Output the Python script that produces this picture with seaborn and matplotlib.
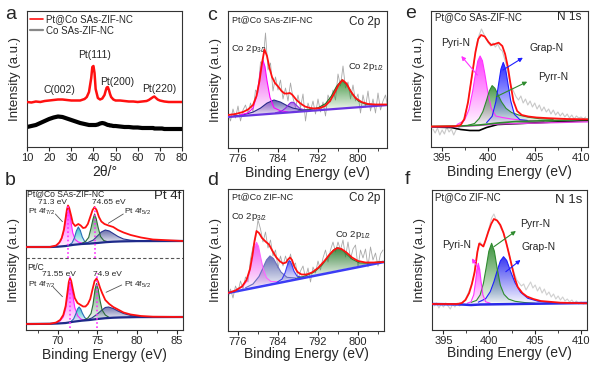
import numpy as np
import matplotlib
matplotlib.use("Agg")
import matplotlib.pyplot as plt
import seaborn as sns
from matplotlib.colors import to_rgb
from matplotlib.patches import Polygon
from matplotlib.lines import Line2D

# ---------------- data: (a) XRD ----------------
xrd_2theta = [10, 12, 14, 16, 18, 20, 22, 24, 26, 28, 30, 32, 34, 36, 37, 38, 39, 39.5, 40, 40.5,
              41, 42, 43, 44, 45, 45.5, 46, 46.5, 47, 47.5, 48, 49, 50, 52, 54, 56, 58, 60, 62, 64,
              65, 66, 67, 67.5, 68, 68.5, 69, 70, 71, 72, 74, 76, 78, 80]
xrd_ptco = [45, 44.5, 45.5, 45, 46, 46.5, 47, 47.5, 47.5, 47, 46.5, 46.5, 46.5, 48, 50, 55, 69, 80, 81, 74,
            58, 49, 47.5, 48.5, 52, 56, 59.5, 60, 57, 53, 50, 47.5, 46.5, 46.5, 46, 45.5, 45.5, 45, 45.5, 46,
            47, 48.5, 50, 50.5, 49.5, 48.5, 47.5, 46.5, 46, 45.5, 45, 45, 45, 45]
xrd_co = [20, 21, 22, 24, 26, 28, 29.5, 30.5, 30, 28.5, 27, 25.5, 24, 23, 22.5, 22, 22, 22, 22, 22,
          22, 22.5, 23.5, 24, 23.5, 23, 22.5, 22, 22, 21.5, 21.5, 21, 21, 20.5, 20, 20, 19.5, 19.5, 19, 19,
          19, 19, 19, 18.5, 18.5, 18.5, 18.5, 18.5, 18.5, 18, 18, 18, 18, 18]

# ---------------- data: (b) Pt 4f ----------------
b1_bg_x = [66, 69, 70, 71, 72, 73, 74, 75, 76, 77, 78, 80, 85.8]
b1_bg_y = [83, 83, 83.3, 84, 85.2, 86, 86.4, 87, 87.8, 88.3, 88.6, 88.9, 89]
b1_env_x = [66, 69, 69.8, 70.2, 70.5, 70.8, 71.0, 71.15, 71.3, 71.45, 71.7, 71.9, 72.2, 72.6, 72.9, 73.2,
            73.5, 73.8, 74.1, 74.4, 74.65, 74.9, 75.2, 75.5, 75.9, 76.4, 77.0, 77.6, 78.3, 79.2, 80.5, 82, 85.8]
b1_env_y = [83, 83, 84.5, 87.5, 92, 101, 112, 120, 124.5, 122, 114, 107, 104, 106, 104.5, 102,
            102.5, 106, 113, 120, 123, 120, 113, 108.5, 106, 104.5, 103, 100, 97.5, 95, 92.5, 90.5, 89]
b1_p1_x = [69.5, 70.0, 70.4, 70.7, 70.95, 71.15, 71.3, 71.45, 71.65, 71.9, 72.2, 72.6, 73.1, 73.6]
b1_p1_y = [83.4, 85.5, 89.0, 96.0, 109.0, 119.5, 123.0, 119.5, 109.5, 97.0, 90.5, 88.0, 86.8, 86.6]
b1_p2_x = [71.4, 71.8, 72.1, 72.35, 72.6, 72.85, 73.1, 73.4, 73.8]
b1_p2_y = [85.0, 87.0, 92.0, 99.0, 103.0, 99.5, 93.0, 88.5, 86.8]
b1_p3_x = [73.0, 73.5, 73.9, 74.2, 74.45, 74.65, 74.85, 75.1, 75.4, 75.8, 76.3]
b1_p3_y = [86.5, 88.5, 92.5, 102, 111, 116, 111.5, 102.5, 93.5, 89.5, 88.3]
b1_p4_x = [73.0, 73.8, 74.5, 75.0, 75.5, 76.0, 76.5, 77.0, 77.6, 78.3, 79.2, 80.5, 82]
b1_p4_y = [86.4, 87.5, 90.0, 94.0, 98.0, 100.0, 99.0, 96.5, 93.5, 91.0, 89.8, 89.2, 89.0]

b2_bg_x = [66, 69, 70, 71, 72, 73, 74, 75, 76, 77, 78, 80, 85.8]
b2_bg_y = [6, 6.2, 6.5, 7, 8.3, 9.3, 10, 11, 11.8, 12.3, 12.6, 12.9, 13]
b2_env_x = [66, 69, 69.8, 70.3, 70.7, 71.0, 71.2, 71.4, 71.55, 71.7, 71.9, 72.15, 72.5, 72.9, 73.2, 73.5,
            73.8, 74.1, 74.4, 74.65, 74.9, 75.1, 75.35, 75.6, 76.0, 76.5, 77.0, 77.6, 78.3, 79.2, 80.5, 82, 85.8]
b2_env_y = [6, 6.2, 7.5, 10, 15, 24, 36, 48, 52, 49, 41, 32, 27, 25, 23.5, 23.5,
            26, 31, 41, 49, 51.5, 48, 42, 37, 30, 26, 23, 20.5, 17.5, 15.5, 14, 13.3, 13]
b2_p1_x = [69.8, 70.3, 70.7, 71.0, 71.25, 71.4, 71.55, 71.7, 71.9, 72.15, 72.5, 72.9, 73.4, 73.9]
b2_p1_y = [6.8, 9.0, 13.0, 21.0, 35.0, 45.5, 49.5, 45.5, 35.5, 22.5, 14.5, 11.0, 9.8, 9.8]
b2_p2_x = [71.6, 72.0, 72.3, 72.5, 72.7, 72.9, 73.1, 73.4, 73.8]
b2_p2_y = [8.0, 11.0, 16.5, 21.0, 23.0, 21.0, 17.0, 12.5, 10.0]
b2_p3_x = [73.3, 73.8, 74.2, 74.45, 74.7, 74.9, 75.1, 75.35, 75.6, 76.0, 76.5]
b2_p3_y = [10.0, 12.0, 16.5, 25.5, 40.5, 46.5, 41.0, 29.0, 20.0, 15.0, 12.5]
b2_p4_x = [73.5, 74.3, 75.0, 75.5, 76.0, 76.4, 77.0, 77.6, 78.3, 79.2, 80.5, 82.0]
b2_p4_y = [9.8, 12.0, 16.0, 19.5, 22.5, 23.0, 21.5, 19.0, 16.5, 14.5, 13.5, 13.0]

# ---------------- data: (c) Co 2p, Pt@Co SAs-ZIF-NC ----------------
c_raw_start, c_raw_step = 774.0, 0.5
c_raw_y = [36, 27, 39, 30, 42, 27, 38, 43, 34, 45, 36, 58, 55, 86, 86, 115, 78, 85, 57, 71,
           58, 68, 49, 60, 47, 65, 50, 40, 53, 40, 54, 27, 45, 37, 47, 34, 49, 36, 46, 32,
           53, 46, 58, 48, 74, 62, 82, 60, 66, 49, 63, 47, 54, 35, 53, 41, 57, 37, 49, 35,
           55, 38, 47, 53, 39]
c_bg_x = [774, 806]
c_bg_y = [31, 43]
c_env_x = [774, 775.5, 777, 778, 779, 779.7, 780.3, 780.8, 781.3, 781.8, 782.3, 782.8, 783.4, 784.1, 784.7,
           785.3, 785.9, 786.4, 786.9, 787.7, 788.5, 789.4, 790.4, 791.4, 792.4, 793.4, 794.4, 795.3, 796.1,
           796.9, 797.7, 798.5, 799.5, 800.7, 802, 803.5, 805.8]
c_env_y = [33, 34, 36, 38.5, 43, 52, 67, 85, 98.5, 92, 80, 71, 65, 61, 57,
           54.5, 54.5, 55, 53, 48, 44.5, 41.5, 40, 39.5, 40, 42, 47, 55, 63,
           68, 64.5, 57, 50, 46, 44, 43.5, 43.5]
c_p1_x = [776.5, 778.0, 779.0, 779.7, 780.2, 780.6, 781.0, 781.4, 781.8, 782.4, 783.2, 784.5, 786.0]
c_p1_y = [33.2, 35.2, 39.9, 51.5, 67.0, 81.0, 87.6, 81.2, 67.3, 50.6, 40.2, 37.2, 36.0]
c_p2_x = [775, 777, 779, 780.5, 781.8, 783.2, 784.5, 785.8, 787, 788.5, 790.5]
c_p2_y = [31.9, 33.1, 35.9, 39.9, 44.9, 48.0, 45.9, 42.4, 39.9, 38.4, 38.0]
c_p3_x = [783.5, 784.7, 785.5, 786.1, 786.5, 786.8, 787.2, 787.7, 788.4, 789.5, 791]
c_p3_y = [35.2, 36.8, 39.8, 43.3, 45.3, 45.8, 45.3, 42.7, 39.4, 37.9, 37.8]
c_p4_x = [788, 790, 792, 793.5, 794.7, 795.7, 796.8, 797.9, 798.9, 800.1, 801.6, 803.5, 805.8]
c_p4_y = [37.0, 38.1, 40.2, 44.3, 52.2, 61.6, 68.1, 62.5, 53.7, 46.8, 43.8, 43.3, 43.5]

# ---------------- data: (d) Co 2p, Pt@Co ZIF-NC ----------------
d_raw_start, d_raw_step = 774.0, 0.5
d_raw_y = [33, 42, 33, 45, 39, 50, 42, 54, 49, 72, 84, 92, 111, 102, 89, 99, 83, 91, 75, 81,
           63, 75, 65, 75, 66, 77, 65, 68, 52, 60, 65, 53, 63, 49, 64, 58, 70, 61, 73, 81,
           69, 81, 89, 79, 89, 81, 91, 74, 89, 72, 82, 86, 64, 81, 73, 82, 64, 84, 71, 78,
           65, 77, 81]
d_bg_x = [774, 805.2]
d_bg_y = [38, 69]
d_env_x = [774, 775.5, 776.8, 777.7, 778.4, 778.9, 779.3, 779.7, 780.2, 780.8, 781.5, 782.2, 782.9, 783.6,
           784.3, 785.0, 785.6, 786.0, 786.4, 786.8, 787.3, 787.9, 788.7, 789.7, 790.8, 792.0, 793.2, 794.3,
           795.2, 795.9, 796.7, 797.7, 798.8, 800.0, 801.5, 803.2, 805.2]
d_env_y = [38, 40.5, 44.5, 51, 62, 76, 90, 100, 98, 93, 89.5, 86.5, 80, 74,
           70, 67.5, 68.5, 71.5, 73.5, 71, 64, 59, 56.5, 56.5, 58.5, 63, 69.5, 76.5,
           81, 83, 82, 78.5, 73.5, 70, 68.5, 68.5, 69]
d_p1_x = [775.5, 776.8, 777.7, 778.4, 778.9, 779.3, 779.7, 780.1, 780.5, 781.0, 781.7, 782.6, 784.0]
d_p1_y = [40.9, 43.8, 49.2, 60.4, 72.9, 83.8, 88.7, 84.6, 74.5, 63.0, 53.2, 49.5, 49.3]
d_p2_x = [777.5, 779.0, 780.2, 781.0, 781.7, 782.4, 783.1, 783.8, 784.6, 785.8, 787.5]
d_p2_y = [43.2, 47.0, 54.5, 63.1, 71.0, 75.1, 72.4, 65.9, 58.9, 53.7, 53.0]
d_p3_x = [783.8, 784.8, 785.4, 785.8, 786.1, 786.3, 786.5, 786.8, 787.2, 787.8, 788.8]
d_p3_y = [48.7, 51.9, 58.0, 64.6, 69.1, 70.3, 69.5, 65.6, 59.8, 54.9, 53.7]
d_p4_x = [787.5, 789.5, 791.3, 792.8, 794.0, 795.0, 795.8, 796.6, 797.6, 798.8, 800.3, 802.3, 805]
d_p4_y = [52.4, 55.1, 59.2, 65.9, 73.9, 80.6, 83.3, 82.2, 77.5, 71.9, 68.1, 67.8, 69.7]

# ---------------- data: (e) N 1s, Pt@Co SAs-ZIF-NC ----------------
e_raw_start, e_raw_step = 394.0, 0.25
e_raw_y = [18, 14, 19, 12, 17, 13, 20, 15, 18, 12, 17, 19, 21, 25, 34, 42, 58, 72, 88, 104,
           112, 118, 113, 108, 104, 101, 104, 100, 103, 98, 96, 88, 80, 68, 60, 55, 50, 47, 51, 44,
           48, 42, 46, 40, 44, 38, 42, 36, 40, 35, 38, 33, 37, 32, 35, 31, 34, 30, 33, 29,
           32, 28, 31, 29, 30, 28, 30]
e_bgk_x = [393.8, 396, 397, 398, 399, 399.8, 401, 410.75]
e_bgk_y = [20, 19.5, 17.5, 16.5, 16.5, 19.5, 22.5, 26.5]
e_bgm_x = [393.8, 397, 399, 401, 410.75]
e_bgm_y = [20, 20.5, 21.5, 23, 25.2]
e_bgg_x = [393.8, 397, 399, 401, 403, 410.75]
e_bgg_y = [20.5, 21, 22, 24, 25.5, 27.5]
e_env_x = [393.8, 396.5, 397.0, 397.4, 397.8, 398.2, 398.6, 398.9, 399.2, 399.6, 400.0, 400.3, 400.7,
           401.1, 401.5, 401.8, 402.1, 402.4, 402.7, 403.1, 403.6, 404.3, 405.2, 406.5, 408.5, 410.75]
e_env_y = [20.5, 20.8, 22, 28, 45, 70, 95, 108, 112, 110.5, 105, 102, 103,
           104.3, 101, 93, 80, 62, 46, 36, 32, 30.5, 29.5, 28.8, 28, 27.7]
e_pyri_x = [396.6, 397.4, 397.9, 398.3, 398.6, 398.85, 399.1, 399.35, 399.6, 399.9, 400.3, 400.8, 401.5,
            402.5, 404, 406]
e_pyri_y = [22.4, 26.5, 37.5, 55.8, 73.2, 85.9, 91, 86.3, 73.8, 56.8, 39, 31, 29.5, 28, 26.5, 25.5]
e_grap_x = [399.8, 400.4, 400.8, 401.1, 401.35, 401.6, 401.85, 402.1, 402.4, 402.8, 403.4, 404.2]
e_grap_y = [24.3, 30.7, 45.3, 63, 77.9, 84.6, 78.3, 63.8, 46.5, 32.7, 27.3, 26.6]
e_pyrr_x = [397.8, 398.5, 399.0, 399.4, 399.8, 400.1, 400.4, 400.7, 401.0, 401.4, 401.9, 402.5, 403.3,
            404.3, 405.5, 407]
e_pyrr_y = [21.7, 23.5, 28.5, 35.4, 46.8, 56.1, 61.4, 58.7, 53, 45.3, 38.6, 34.5, 31.9, 29.8, 28.3, 27.6]

# ---------------- data: (f) N 1s, Pt@Co ZIF-NC ----------------
f_raw_start, f_raw_step = 394.0, 0.25
f_raw_y = [24, 27, 22, 26, 23, 27, 24, 21, 26, 23, 27, 24, 26, 29, 33, 38, 44, 52, 66, 82,
           88, 84, 87, 95, 103, 112, 116, 110, 108, 102, 98, 90, 82, 72, 64, 56, 50, 47, 44, 46,
           40, 44, 48, 42, 45, 39, 43, 37, 41, 35, 38, 33, 36, 31, 34, 30, 33, 29, 31, 28,
           30, 27, 29, 26, 28, 26, 27]
f_bg_x = [393.75, 397, 398, 399, 410.65]
f_bg_y = [26, 25.5, 25, 25.5, 27]
f_env_x = [393.75, 396.5, 397.0, 397.4, 397.8, 398.1, 398.4, 398.7, 398.9, 399.15, 399.35, 399.6, 399.9,
           400.2, 400.5, 400.85, 401.2, 401.55, 401.85, 402.2, 402.5, 402.8, 403.1, 403.6, 404.1, 404.8,
           405.6, 407.75, 410.65]
f_env_y = [26, 26, 27, 30, 37, 46, 58, 78, 86.5, 85, 83.5, 90, 98.5,
           106, 111, 109.5, 105, 97, 87, 74, 62, 51, 43, 37, 33.5, 31,
           29, 27.3, 26.7]
f_pyri_x = [397.6, 398.0, 398.3, 398.5, 398.65, 398.8, 398.95, 399.1, 399.3, 399.6, 400.1]
f_pyri_y = [26.8, 28.2, 35.2, 48.4, 60.6, 66.7, 60.6, 48.4, 35.2, 28.2, 26.8]
f_pyrr_x = [398.0, 398.6, 399.0, 399.35, 399.65, 399.95, 400.25, 400.55, 400.85, 401.2, 401.6, 402.1,
            402.8, 403.8, 405]
f_pyrr_y = [27.6, 29.6, 35.1, 46.4, 62, 78.8, 86.7, 78.8, 61.8, 44.8, 35.7, 30.9, 28.7, 27.5, 26.7]
f_grap_x = [398.8, 399.6, 400.1, 400.5, 400.85, 401.2, 401.55, 401.9, 402.3, 402.8, 403.4, 404.2, 405.3, 407]
f_grap_y = [27.8, 31.3, 38.3, 48.2, 59.1, 69, 73.3, 69.5, 59.1, 47.3, 37.8, 31.7, 28.8, 27.2]

# ---------------- style ----------------
sns.set_style("ticks")
plt.rcParams["font.family"] = ["Liberation Sans", "DejaVu Sans"]
plt.rcParams["mathtext.fontset"] = "custom"
plt.rcParams["mathtext.rm"] = "Liberation Sans"
plt.rcParams["mathtext.it"] = "Liberation Sans:italic"
plt.rcParams["axes.linewidth"] = 0.8
plt.rcParams["axes.edgecolor"] = "#333333"

RED = "#FF1010"


def grad_fill(ax, x, y, color, top=0.9, z=2):
    x = np.asarray(x, float)
    y = np.asarray(y, float)
    poly = Polygon(np.column_stack([x, y]), closed=True, fc="none", ec="none")
    ax.add_patch(poly)
    img = np.ones((64, 1, 4))
    img[..., :3] = to_rgb(color)
    img[..., 3] = np.linspace(top, 0.05, 64)[:, None]
    im = ax.imshow(img, aspect="auto", origin="upper", interpolation="bilinear",
                   extent=(x.min(), x.max(), y.min(), y.max()), zorder=z)
    im.set_clip_path(poly)


def line(ax, x, y, color, lw=0.8, z=3, **kw):
    sns.lineplot(x=list(x), y=list(y), ax=ax, color=color, lw=lw, sort=False,
                 estimator=None, zorder=z, **kw)


def peak(ax, x, y, fill, edge=None, top=0.9, z=2):
    grad_fill(ax, x, y, fill, top, z)
    line(ax, x, y, edge or fill, 0.8, z + 0.5)


def raw(ax, start, step, y, color, lw=0.6):
    xs = start + step * np.arange(len(y))
    line(ax, xs, y, color, lw, 1)


def frame(ax, xlim, ylim, major, minor=None, xlabel="Binding Energy (eV)", labelpad=1):
    ax.set_xlim(*xlim)
    ax.set_ylim(*ylim)
    ax.set_xticks(major)
    if minor is not None:
        ax.set_xticks(minor, minor=True)
    ax.set_yticks([])
    ax.tick_params(axis="x", which="major", direction="out", length=3, width=0.8,
                   labelsize=8, pad=1.5)
    ax.tick_params(axis="x", which="minor", direction="out", length=2, width=0.6)
    ax.set_xlabel(xlabel, fontsize=10, labelpad=labelpad)
    ax.set_ylabel("Intensity (a.u.)", fontsize=9.5, labelpad=4)


def arrow(ax, tail, head, color):
    ax.annotate("", xy=head, xytext=tail,
                arrowprops=dict(arrowstyle="-|>", color=color, lw=0.8, mutation_scale=6,
                                shrinkA=0, shrinkB=0), zorder=6)


fig = plt.figure(figsize=(6, 3.69), dpi=100)
W, H = 600, 369


def add_axes(l, t, r, b):
    return fig.add_axes([l / W, 1 - b / H, (r - l) / W, (b - t) / H])


axa = add_axes(27, 11, 182, 147)
axb = add_axes(26, 190, 183, 330)
axc = add_axes(228, 11, 387, 148)
axd = add_axes(228, 189, 384, 331)
axe = add_axes(431, 11, 588, 147)
axf = add_axes(432, 190, 587, 330)

# ---------------- (a) ----------------
line(axa, xrd_2theta, xrd_co, "black", 3.0, 2)
line(axa, xrd_2theta, xrd_ptco, RED, 1.8, 3)
frame(axa, (10, 80), (0, 136), list(range(10, 81, 10)), xlabel="2θ/°")
for s, x, y in [("C(002)", 24.5, 57), ("Pt(111)", 40.7, 92), ("Pt(200)", 50.6, 65), ("Pt(220)", 69.6, 58)]:
    axa.text(x, y, s, fontsize=7.5, ha="center", va="center")
handles = [Line2D([], [], color=RED, lw=1.2), Line2D([], [], color="#888888", lw=1.6)]
axa.legend(handles, ["Pt@Co SAs-ZIF-NC", "Co SAs-ZIF-NC"], loc="upper left", frameon=False,
           fontsize=7, handlelength=1.3, handletextpad=0.4, borderaxespad=0.1, borderpad=0.2,
           labelspacing=0.2)

# ---------------- (b) ----------------
MAGB, CYB, GRB, NVB = "#FF1FFF", "#22B8C8", "#3C8C50", "#2A3590"
for (bgx, bgy, ex, ey, p1, p2, p3, p4) in [
        (b1_bg_x, b1_bg_y, b1_env_x, b1_env_y, (b1_p1_x, b1_p1_y), (b1_p2_x, b1_p2_y),
         (b1_p3_x, b1_p3_y), (b1_p4_x, b1_p4_y)),
        (b2_bg_x, b2_bg_y, b2_env_x, b2_env_y, (b2_p1_x, b2_p1_y), (b2_p2_x, b2_p2_y),
         (b2_p3_x, b2_p3_y), (b2_p4_x, b2_p4_y))]:
    peak(axb, *p4, "#3A3F8F", NVB, 0.75, 2)
    peak(axb, *p1, MAGB, MAGB, 0.95, 2.2)
    peak(axb, *p2, CYB, "#2A70B8", 0.9, 2.4)
    peak(axb, *p3, GRB, "#2D6A3A", 0.9, 2.6)
    line(axb, bgx, bgy, "#1E2A8A", 1.6, 4)
    line(axb, ex, ey, RED, 1.3, 5)
axb.axhline(72, color="#555555", lw=0.8, ls=(0, (3, 2)), zorder=1)
for x, y0, y1 in [(71.3, 72, 124), (74.65, 72, 123), (71.55, 2, 55), (74.9, 2, 57)]:
    axb.plot([x, x], [y0, y1], color="#FF30FF", lw=1.2, ls=(0, (1, 1.5)), zorder=6)
frame(axb, (66, 85.8), (0, 140), [70, 75, 80, 85], [67.5, 72.5, 77.5, 82.5])
axb.text(66.1, 136.3, "Pt@Co SAs-ZIF-NC", fontsize=6.2, ha="left", va="center")
axb.text(85.55, 134, "Pt 4f", fontsize=9.5, ha="right", va="center")
axb.text(66.1, 63, "Pt/C", fontsize=6.2, ha="left", va="center")
for s, x, y, ha in [("71.3 eV", 69.3, 127, "center"), ("74.65 eV", 76.5, 127, "center"),
                    ("Pt 4f$_{7/2}$", 66.2, 118, "left"), ("Pt 4f$_{5/2}$", 78.3, 118, "left"),
                    ("71.55 eV", 70.1, 56, "center"), ("74.9 eV", 76.3, 56, "center"),
                    ("Pt 4f$_{7/2}$", 66.2, 45, "left"), ("Pt 4f$_{5/2}$", 78.3, 45, "left")]:
    axb.text(x, y, s, fontsize=6.0, ha=ha, va="center")
for (x0, y0, x1, y1) in [(69.7, 116, 70.6, 108.3), (78.27, 116, 76.38, 106.7),
                         (69.45, 42.7, 70.6, 33.3), (78.07, 45, 76.1, 37.7)]:
    axb.plot([x0, x1], [y0, y1], color="#555555", lw=0.6, zorder=6)

# ---------------- (c) ----------------
raw(axc, c_raw_start, c_raw_step, c_raw_y, "#A8A8A8", 0.6)
peak(axc, c_p2_x, c_p2_y, "#3C3C9C", "#2A2A8A", 0.85, 2)
peak(axc, c_p1_x, c_p1_y, "#F040F0", "#FF00FF", 0.95, 2.2)
peak(axc, c_p3_x, c_p3_y, "#9455E0", "#8A2BE2", 0.9, 2.4)
peak(axc, c_p4_x, c_p4_y, "#2E8B2E", "#237023", 0.9, 2.6)
line(axc, c_bg_x, c_bg_y, "#6A35E0", 1.6, 4)
line(axc, c_env_x, c_env_y, RED, 1.3, 5)
frame(axc, (774, 805.8), (0, 137), [776, 784, 792, 800], [780, 788, 796, 804])
axc.text(774.75, 128, "Pt@Co SAs-ZIF-NC", fontsize=6.5, ha="left", va="center")
axc.text(804.4, 126, "Co 2p", fontsize=8.5, ha="right", va="center")
axc.text(774.6, 99, "Co 2p$_{3/2}$", fontsize=6.8, ha="left", va="center")
axc.text(797.9, 81, "Co 2p$_{1/2}$", fontsize=6.8, ha="left", va="center")

# ---------------- (d) ----------------
raw(axd, d_raw_start, d_raw_step, d_raw_y, "#A8A8A8", 0.6)
peak(axd, d_p2_x, d_p2_y, "#4D5AA8", "#6A6FC0", 0.85, 2)
peak(axd, d_p1_x, d_p1_y, "#F050F0", "#FF66FF", 0.95, 2.2)
peak(axd, d_p3_x, d_p3_y, "#5050F0", "#3A3AF0", 0.9, 2.4)
peak(axd, d_p4_x, d_p4_y, "#2E7D32", "#2E7D32", 0.9, 2.6)
line(axd, d_bg_x, d_bg_y, "#3C3CF5", 1.8, 4)
line(axd, d_env_x, d_env_y, RED, 1.3, 5)
frame(axd, (774, 805.2), (0, 142), [776, 784, 792, 800], [780, 788, 796, 804], labelpad=0)
axd.text(774.75, 134, "Pt@Co ZIF-NC", fontsize=6.5, ha="left", va="center")
axd.text(804.4, 132.7, "Co 2p", fontsize=8.5, ha="right", va="center")
axd.text(774.6, 114, "Co 2p$_{3/2}$", fontsize=6.8, ha="left", va="center")
axd.text(795.4, 96, "Co 2p$_{1/2}$", fontsize=6.8, ha="left", va="center")

# ---------------- (e) ----------------
raw(axe, e_raw_start, e_raw_step, e_raw_y, "#C8C8C8", 0.8)
peak(axe, e_pyri_x, e_pyri_y, "#FF33FF", "#FF33FF", 0.95, 2)
peak(axe, e_pyrr_x, e_pyrr_y, "#2E8B2E", "#2E8B2E", 0.9, 2.2)
peak(axe, e_grap_x, e_grap_y, "#1E1EFF", "#1E1EFF", 0.95, 2.4)
line(axe, e_bgk_x, e_bgk_y, "black", 1.2, 4)
line(axe, e_bgm_x, e_bgm_y, "#E040E0", 1.0, 4.1)
line(axe, e_bgg_x, e_bgg_y, "#2E8B2E", 1.2, 4.2)
line(axe, e_env_x, e_env_y, RED, 1.3, 5)
frame(axe, (393.8, 410.75), (0, 136), [395, 400, 405, 410], [397.5, 402.5, 407.5])
axe.text(394.2, 129.7, "Pt@Co SAs-ZIF-NC", fontsize=7, ha="left", va="center")
axe.text(410.05, 129.7, "N 1s", fontsize=8.5, ha="right", va="center")
axe.text(394.9, 104.3, "Pyri-N", fontsize=7.5, ha="left", va="center")
axe.text(404.45, 98.7, "Grap-N", fontsize=7.5, ha="left", va="center")
axe.text(405.35, 70.3, "Pyrr-N", fontsize=7.5, ha="left", va="center")
arrow(axe, (398.8, 72), (397.07, 91), "#FF33FF")
arrow(axe, (401.57, 77), (403.72, 89.3), "#1E1EFF")
arrow(axe, (400.85, 50.3), (404.19, 65.3), "#2E8B2E")

# ---------------- (f) ----------------
raw(axf, f_raw_start, f_raw_step, f_raw_y, "#D0D0D0", 0.8)
peak(axf, f_grap_x, f_grap_y, "#2A2AF0", "#1E1EFF", 0.95, 2)
peak(axf, f_pyrr_x, f_pyrr_y, "#2E8B2E", "#2E8B2E", 0.95, 2.2)
peak(axf, f_pyri_x, f_pyri_y, "#FF33FF", "#FF33FF", 0.95, 2.4)
line(axf, f_bg_x, f_bg_y, "#2A2AE8", 1.8, 4)
line(axf, f_env_x, f_env_y, RED, 1.3, 5)
frame(axf, (393.75, 410.65), (0, 140), [395, 400, 405, 410], [397.5, 402.5, 407.5], labelpad=0)
axf.text(394.1, 133.3, "Pt@Co ZIF-NC", fontsize=7, ha="left", va="center")
axf.text(410.2, 130, "N 1s", fontsize=9.5, ha="right", va="center")
axf.text(403.35, 105.7, "Pyrr-N", fontsize=7.5, ha="left", va="center")
axf.text(403.5, 83.3, "Grap-N", fontsize=7.5, ha="left", va="center")
axf.text(394.8, 85, "Pyri-N", fontsize=7.5, ha="left", va="center")
arrow(axf, (400.5, 83.3), (402.9, 99), "#2E8B2E")
arrow(axf, (401.8, 58.3), (403.4, 70), "#1E1EFF")
arrow(axf, (398.9, 60), (398.1, 71.7), "#FF33FF")

# ---------------- panel letters ----------------
for s, x, y in [("a", 5, 19), ("b", 5, 185), ("c", 207, 20), ("d", 207, 185), ("e", 405, 18.5), ("f", 405, 184)]:
    fig.text(x / W, 1 - y / H, s, fontsize=14, ha="left", va="baseline")

fig.savefig("out.png", dpi=100)
